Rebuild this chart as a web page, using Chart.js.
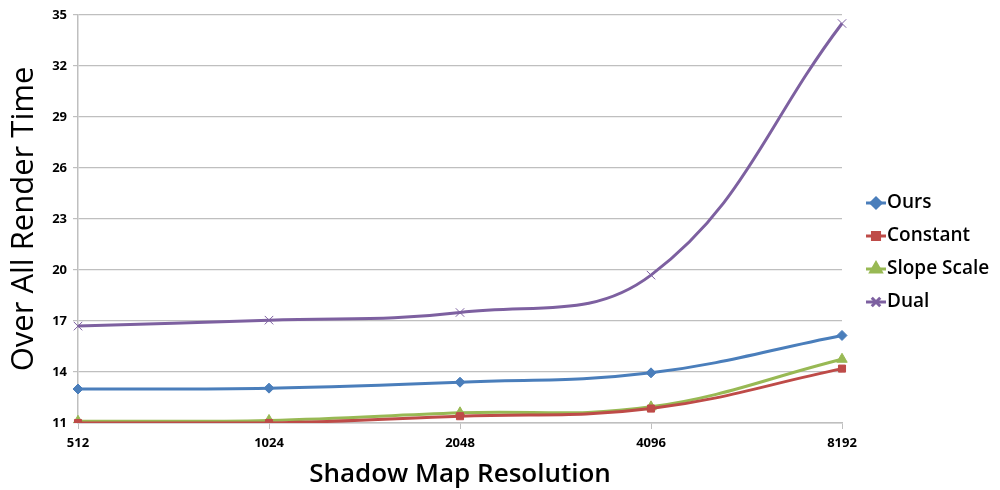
<!DOCTYPE html>
<html>
<head>
<meta charset="utf-8">
<script src="https://cdn.jsdelivr.net/npm/chart.js@4.4.1/dist/chart.umd.min.js"></script>
<style>
  html, body { margin: 0; padding: 0; background: #fff; }
  #wrap { width: 1000px; height: 490px; }
</style>
</head>
<body>
<div id="wrap"><canvas id="chart"></canvas></div>
<script>
// chart data
const resolutions = ['512', '1024', '2048', '4096', '8192'];
const oursTimes = [13.0, 13.05, 13.4, 13.95, 16.15];
const constantTimes = [11.0, 11.0, 11.4, 11.85, 14.2];
const slopeTimes = [11.1, 11.15, 11.6, 11.95, 14.75];
const dualTimes = [16.7, 17.05, 17.5, 19.7, 34.5];
const yTicks = [11, 14, 17, 20, 23, 26, 29, 32, 35];

const FONT = "'Open Sans', Lato, sans-serif";

function series(label, data, color, pointStyle, radius) {
  return {
    label: label,
    data: data,
    borderColor: color,
    backgroundColor: color,
    borderWidth: 3,
    pointStyle: pointStyle,
    pointRadius: radius,
    pointBorderWidth: 1,
    pointBorderColor: color,
    tension: 0.4,
    fill: false
  };
}

// legend drawn on the canvas: short line with marker, then label
const sideLegend = {
  id: 'sideLegend',
  afterDraw(chart) {
    const ctx = chart.ctx;
    const x0 = 866, y0 = 203, step = 33;
    ctx.save();
    chart.data.datasets.forEach((ds, i) => {
      const y = y0 + i * step;
      ctx.strokeStyle = ds.borderColor;
      ctx.lineWidth = 3;
      ctx.beginPath();
      ctx.moveTo(x0, y);
      ctx.lineTo(x0 + 20, y);
      ctx.stroke();
      Chart.helpers.drawPoint(ctx, {
        pointStyle: ds.pointStyle,
        radius: ds.pointRadius,
        rotation: 0,
        borderWidth: 1
      }, x0 + 10, y);
      ctx.fillStyle = ds.borderColor;
      ctx.fill();
      ctx.fillStyle = '#000';
      ctx.font = "600 19px " + FONT;
      ctx.textBaseline = 'middle';
      ctx.fillText(ds.label, x0 + 21, y);
    });
    ctx.restore();
  }
};

const ctx = document.getElementById('chart').getContext('2d');
new Chart(ctx, {
  type: 'line',
  data: {
    labels: resolutions,
    datasets: [
      series('Ours', oursTimes, '#4a7ebb', 'rectRot', 5),
      series('Constant', constantTimes, '#be4b48', 'rect', 5),
      series('Slope Scale', slopeTimes, '#98b954', 'triangle', 6),
      series('Dual', dualTimes, '#7d60a0', 'crossRot', 6)
    ]
  },
  options: {
    responsive: true,
    maintainAspectRatio: false,
    animation: false,
    layout: { padding: { top: 15, right: 158, left: 0, bottom: 0 } },
    plugins: {
      legend: { display: false },
      tooltip: { enabled: false }
    },
    scales: {
      x: {
        offset: false,
        afterFit: scale => { scale.height = 67; },
        grid: { display: true, drawOnChartArea: false, color: '#bfbfbf', tickLength: 6 },
        border: { color: '#bfbfbf', width: 1.5 },
        ticks: {
          color: '#000',
          font: { family: FONT, size: 13, weight: 'bold' },
          maxRotation: 0,
          padding: 6
        },
        title: {
          display: true,
          text: 'Shadow Map Resolution',
          color: '#000',
          font: { family: FONT, size: 26, weight: '600' },
          padding: { top: 2, bottom: 0 }
        }
      },
      y: {
        min: 11,
        max: 35,
        afterFit: scale => { scale.width = 78; },
        afterBuildTicks: scale => { scale.ticks = yTicks.map(v => ({ value: v })); },
        grid: { color: '#bfbfbf', tickLength: 5, lineWidth: 1.2 },
        border: { color: '#bfbfbf', width: 1.5 },
        ticks: {
          color: '#000',
          font: { family: FONT, size: 13, weight: 'bold' },
          padding: 6
        },
        title: {
          display: true,
          text: 'Over All Render Time',
          color: '#000',
          font: { family: FONT, size: 31, weight: 'normal' },
          padding: { top: 6, bottom: 0 }
        }
      }
    }
  },
  plugins: [sideLegend]
});
</script>
</body>
</html>
